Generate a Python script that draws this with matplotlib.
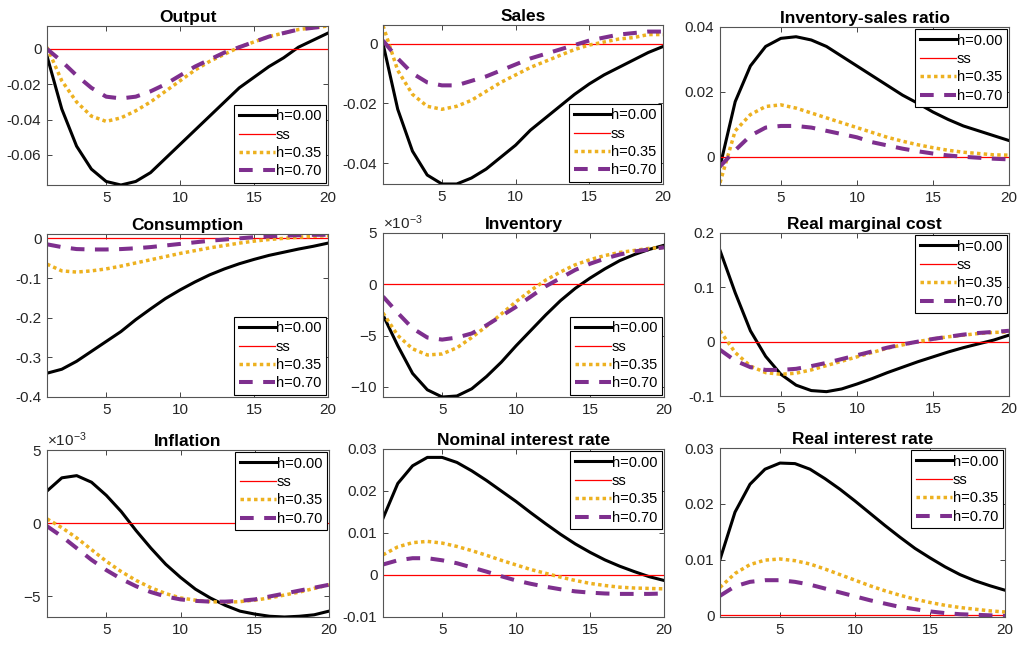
import numpy as np
import matplotlib
matplotlib.use("Agg")
import matplotlib.pyplot as plt
from matplotlib.ticker import FuncFormatter

plt.rcParams["font.family"] = ["Liberation Sans", "DejaVu Sans"]
plt.rcParams["axes.unicode_minus"] = False
plt.rcParams["mathtext.fontset"] = "custom"
plt.rcParams["mathtext.rm"] = "Liberation Sans"

# horizon (quarters)
t = np.arange(1, 21)
ss = np.zeros(20)

labels = ["h=0.00", "ss", "h=0.35", "h=0.70"]

# impulse responses, one array per habit parameter
output_h000 = [-0.004, -0.034, -0.055, -0.068, -0.075, -0.077, -0.075, -0.070, -0.062, -0.054,
               -0.046, -0.038, -0.030, -0.022, -0.016, -0.010, -0.005, 0.001, 0.005, 0.009]
output_h035 = [0.001, -0.018, -0.030, -0.038, -0.041, -0.039, -0.035, -0.030, -0.024, -0.018,
               -0.012, -0.007, -0.003, 0.001, 0.004, 0.007, 0.009, 0.011, 0.012, 0.013]
output_h070 = [0.000, -0.007, -0.015, -0.022, -0.027, -0.028, -0.027, -0.024, -0.020, -0.015,
               -0.010, -0.006, -0.002, 0.001, 0.004, 0.007, 0.009, 0.011, 0.012, 0.013]

sales_h000 = [0.000, -0.022, -0.036, -0.044, -0.047, -0.047, -0.045, -0.042, -0.038, -0.034,
              -0.029, -0.025, -0.021, -0.017, -0.0135, -0.0105, -0.008, -0.0055, -0.003, -0.001]
sales_h035 = [0.006, -0.009, -0.017, -0.021, -0.022, -0.021, -0.019, -0.016, -0.013, -0.0105,
              -0.008, -0.006, -0.004, -0.002, -0.0005, 0.0005, 0.0015, 0.002, 0.003, 0.003]
sales_h070 = [0.001, -0.005, -0.010, -0.013, -0.014, -0.014, -0.0125, -0.011, -0.009, -0.007,
              -0.005, -0.0035, -0.002, -0.0005, 0.001, 0.002, 0.003, 0.0035, 0.004, 0.004]

isr_h000 = [-0.003, 0.017, 0.028, 0.034, 0.0365, 0.037, 0.036, 0.034, 0.031, 0.028,
            0.025, 0.022, 0.019, 0.0165, 0.0138, 0.0115, 0.0095, 0.008, 0.0065, 0.005]
isr_h035 = [-0.008, 0.008, 0.013, 0.0155, 0.016, 0.015, 0.0135, 0.012, 0.0105, 0.009,
            0.0075, 0.006, 0.0048, 0.0037, 0.0028, 0.002, 0.0014, 0.001, 0.0006, 0.0005]
isr_h070 = [-0.003, 0.002, 0.0065, 0.009, 0.0095, 0.0095, 0.009, 0.008, 0.007, 0.006,
            0.0045, 0.0035, 0.0025, 0.0017, 0.001, 0.0004, 0.0, -0.0003, -0.0006, -0.0008]

cons_h000 = [-0.34, -0.33, -0.31, -0.285, -0.26, -0.235, -0.205, -0.178, -0.152, -0.13,
             -0.11, -0.092, -0.077, -0.064, -0.053, -0.043, -0.035, -0.027, -0.02, -0.012]
cons_h035 = [-0.065, -0.082, -0.085, -0.082, -0.077, -0.07, -0.062, -0.054, -0.046, -0.038,
             -0.031, -0.024, -0.018, -0.012, -0.007, -0.003, 0.0, 0.003, 0.005, 0.007]
cons_h070 = [-0.015, -0.022, -0.027, -0.028, -0.028, -0.027, -0.025, -0.022, -0.018, -0.014,
             -0.01, -0.006, -0.003, 0.0, 0.003, 0.005, 0.007, 0.008, 0.009, 0.009]

inv_h000 = [-3.0e-3, -6.0e-3, -8.7e-3, -10.3e-3, -11.0e-3, -10.9e-3, -10.2e-3, -9.0e-3, -7.6e-3, -6.0e-3,
            -4.5e-3, -3.0e-3, -1.6e-3, -0.4e-3, 0.6e-3, 1.5e-3, 2.3e-3, 2.9e-3, 3.4e-3, 3.8e-3]
inv_h035 = [-2.8e-3, -5.0e-3, -6.3e-3, -6.9e-3, -6.8e-3, -6.2e-3, -5.2e-3, -4.1e-3, -2.9e-3, -1.7e-3,
            -0.6e-3, 0.4e-3, 1.2e-3, 1.9e-3, 2.4e-3, 2.8e-3, 3.1e-3, 3.3e-3, 3.5e-3, 3.6e-3]
inv_h070 = [-1.2e-3, -2.8e-3, -4.3e-3, -5.2e-3, -5.4e-3, -5.2e-3, -4.8e-3, -4.0e-3, -3.1e-3, -2.2e-3,
            -1.2e-3, -0.2e-3, 0.6e-3, 1.4e-3, 2.0e-3, 2.5e-3, 2.9e-3, 3.2e-3, 3.4e-3, 3.6e-3]

rmc_h000 = [0.168, 0.09, 0.02, -0.027, -0.06, -0.08, -0.09, -0.092, -0.087, -0.078,
            -0.068, -0.057, -0.047, -0.037, -0.028, -0.019, -0.011, -0.004, 0.003, 0.012]
rmc_h035 = [0.02, -0.02, -0.045, -0.057, -0.06, -0.058, -0.052, -0.044, -0.036, -0.028,
            -0.02, -0.012, -0.006, 0.0, 0.005, 0.009, 0.012, 0.015, 0.017, 0.018]
rmc_h070 = [-0.015, -0.035, -0.047, -0.052, -0.052, -0.05, -0.045, -0.039, -0.032, -0.025,
            -0.018, -0.011, -0.005, 0.0, 0.005, 0.009, 0.013, 0.016, 0.018, 0.02]

infl_h000 = [2.2e-3, 3.1e-3, 3.25e-3, 2.8e-3, 1.9e-3, 0.8e-3, -0.5e-3, -1.7e-3, -2.8e-3, -3.7e-3,
             -4.5e-3, -5.1e-3, -5.6e-3, -6.0e-3, -6.2e-3, -6.35e-3, -6.4e-3, -6.35e-3, -6.25e-3, -6.0e-3]
infl_h035 = [0.3e-3, -0.3e-3, -1.0e-3, -1.8e-3, -2.6e-3, -3.3e-3, -3.9e-3, -4.4e-3, -4.8e-3, -5.1e-3,
             -5.25e-3, -5.35e-3, -5.4e-3, -5.35e-3, -5.25e-3, -5.1e-3, -4.9e-3, -4.7e-3, -4.45e-3, -4.2e-3]
infl_h070 = [-0.2e-3, -0.9e-3, -1.7e-3, -2.5e-3, -3.2e-3, -3.8e-3, -4.3e-3, -4.7e-3, -5.0e-3, -5.2e-3,
             -5.3e-3, -5.35e-3, -5.35e-3, -5.3e-3, -5.2e-3, -5.0e-3, -4.8e-3, -4.6e-3, -4.4e-3, -4.2e-3]

nom_h000 = [0.0135, 0.0218, 0.026, 0.028, 0.028, 0.0268, 0.0248, 0.0225, 0.02, 0.0175,
            0.0148, 0.0122, 0.0097, 0.0074, 0.0054, 0.0036, 0.0021, 0.0008, -0.0004, -0.0013]
nom_h035 = [0.0048, 0.0067, 0.0077, 0.008, 0.0076, 0.0068, 0.0058, 0.0047, 0.0035, 0.0024,
            0.0013, 0.0004, -0.0005, -0.0013, -0.002, -0.0025, -0.0029, -0.0031, -0.0032, -0.0033]
nom_h070 = [0.0025, 0.0035, 0.004, 0.004, 0.0035, 0.0028, 0.0018, 0.0008, -0.0003, -0.0013,
            -0.0021, -0.0028, -0.0034, -0.0039, -0.0042, -0.0044, -0.0045, -0.0045, -0.0045, -0.0044]

real_h000 = [0.01, 0.0185, 0.0235, 0.0262, 0.0273, 0.0272, 0.0262, 0.0245, 0.0226, 0.0205,
             0.0183, 0.0161, 0.014, 0.012, 0.0103, 0.0087, 0.0073, 0.0062, 0.0053, 0.0045]
real_h035 = [0.005, 0.0075, 0.0091, 0.0099, 0.0101, 0.0098, 0.0092, 0.0083, 0.0073, 0.0063,
             0.0053, 0.0044, 0.0036, 0.0029, 0.0023, 0.0018, 0.0014, 0.0011, 0.0008, 0.0006]
real_h070 = [0.0035, 0.0052, 0.006, 0.0063, 0.0063, 0.006, 0.0055, 0.0048, 0.0041, 0.0034,
             0.0027, 0.0021, 0.0015, 0.0011, 0.0007, 0.0004, 0.0002, 0.0001, 0.0, -0.0001]

W, H = 1020, 647


def rect(left, top, right, bottom):
    # pixel box -> figure fraction
    return [left / W, 1 - bottom / H, (right - left) / W, (bottom - top) / H]


panels = [
    ("Output", (output_h000, output_h035, output_h070), rect(47, 26, 328, 185),
     (-0.077, 0.013), [-0.06, -0.04, -0.02, 0], "lower right", False),
    ("Sales", (sales_h000, sales_h035, sales_h070), rect(383, 25, 663, 184),
     (-0.047, 0.0062), [-0.04, -0.02, 0], "lower right", False),
    ("Inventory-sales ratio", (isr_h000, isr_h035, isr_h070), rect(720, 27, 1009, 185),
     (-0.0087, 0.04), [0, 0.02, 0.04], "upper right", False),
    ("Consumption", (cons_h000, cons_h035, cons_h070), rect(47, 234, 328, 397),
     (-0.4, 0.011), [-0.4, -0.3, -0.2, -0.1, 0], "lower right", False),
    ("Inventory", (inv_h000, inv_h035, inv_h070), rect(383, 233, 664, 397),
     (-0.011, 0.005), [-0.01, -0.005, 0, 0.005], "lower right", True),
    ("Real marginal cost", (rmc_h000, rmc_h035, rmc_h070), rect(720, 233, 1009, 396),
     (-0.1, 0.2), [-0.1, 0, 0.1, 0.2], "upper right", False),
    ("Inflation", (infl_h000, infl_h035, infl_h070), rect(47, 450, 329, 617),
     (-0.0064, 0.005), [-0.005, 0, 0.005], "upper right", True),
    ("Nominal interest rate", (nom_h000, nom_h035, nom_h070), rect(383, 449, 664, 617),
     (-0.01, 0.03), [-0.01, 0, 0.01, 0.02, 0.03], "upper right", False),
    ("Real interest rate", (real_h000, real_h035, real_h070), rect(720, 448, 1005, 617),
     (-0.0003, 0.03), [0, 0.01, 0.02, 0.03], "upper right", False),
]

BLACK = "#000000"
RED = "#ff0000"
ORANGE = "#edb120"
PURPLE = "#7e2f8e"
AXCOL = "#262626"

fig = plt.figure(figsize=(W / 100, H / 100), dpi=100)

for title, (s0, s35, s70), box, ylim, yticks, loc, sci in panels:
    ax = fig.add_axes(box)
    ax.plot(t, s0, color=BLACK, lw=2.2, label=labels[0])
    ax.plot(t, ss, color=RED, lw=0.9, label=labels[1])
    ax.plot(t, s35, color=ORANGE, lw=2.5, dashes=(1, 0.95), label=labels[2])
    ax.plot(t, s70, color=PURPLE, lw=2.9, dashes=(3.4, 2.6), label=labels[3])

    ax.set_xlim(1, 20)
    ax.set_ylim(*ylim)
    ax.set_xticks([5, 10, 15, 20])
    ax.set_yticks(yticks)
    if sci:
        ax.ticklabel_format(axis="y", style="sci", scilimits=(-3, -3), useMathText=True)
        ax.yaxis.get_offset_text().set_fontsize(11)
        ax.yaxis.get_offset_text().set_color(AXCOL)
    else:
        ax.yaxis.set_major_formatter(FuncFormatter(lambda v, p: "%g" % v))

    ax.tick_params(direction="in", length=3.5, width=0.6, top=True, right=True,
                   labelsize=11, colors=AXCOL, pad=4)
    for sp in ax.spines.values():
        sp.set_color("#555555")
        sp.set_linewidth(0.8)

    ax.set_title(title, fontsize=12.5, fontweight="bold", pad=3)

    leg = ax.legend(loc=loc, fontsize=10.5, frameon=True, fancybox=False,
                    edgecolor="black", framealpha=1, borderaxespad=0.15,
                    handlelength=2.5, handletextpad=0.05, labelspacing=0.3,
                    borderpad=0.3)
    leg.get_frame().set_linewidth(0.8)

fig.savefig("out.png", dpi=100)
